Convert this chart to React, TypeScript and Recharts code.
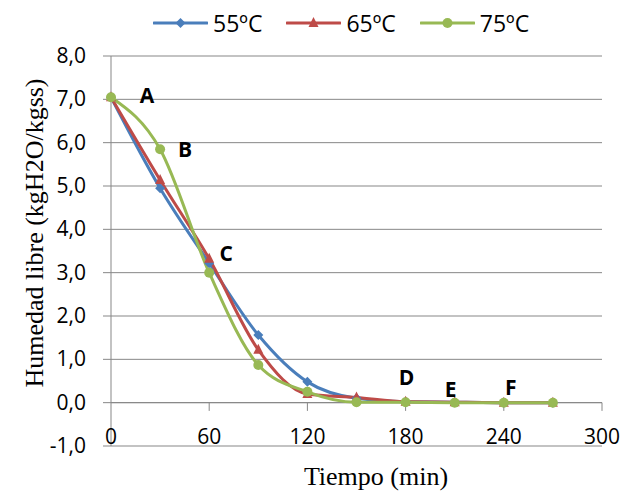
import {
  ComposedChart,
  Line,
  XAxis,
  YAxis,
  CartesianGrid,
  ReferenceLine,
  LabelList,
} from 'recharts'

// Tiempo de secado (min) y humedad libre (kgH2O/kgss) por temperatura
const tiempo = [0, 30, 60, 90, 120, 150, 180, 210, 240, 270]
const h55 = [7.05, 4.95, 3.22, 1.56, 0.48, 0.1, 0.02, 0.01, 0.0, 0.0]
const h65 = [7.05, 5.14, 3.32, 1.22, 0.2, 0.12, 0.02, 0.01, 0.0, 0.0]
const h75 = [7.05, 5.85, 3.0, 0.87, 0.25, 0.01, 0.01, 0.0, 0.0, 0.0]
const marcas = ['A', 'B', 'C', '', '', '', 'D', 'E', 'F', '']

const xTicks = [0, 60, 120, 180, 240, 300]
const yTicks = [-1, 0, 1, 2, 3, 4, 5, 6, 7, 8]

const series = [
  { key: 'h55', name: '55ºC', color: '#4A7EBB', shape: 'diamond' },
  { key: 'h65', name: '65ºC', color: '#BE4B48', shape: 'triangle' },
  { key: 'h75', name: '75ºC', color: '#98B954', shape: 'circle' },
]

const data = tiempo.map((t, i) => ({
  t,
  h55: h55[i],
  h65: h65[i],
  h75: h75[i],
  marca: marcas[i],
}))

const GRID = '#878787'
const SANS = '"Open Sans", sans-serif'
const SERIF = '"Liberation Serif", "Times New Roman", serif'

// where each letter sits relative to its point
const markOffset: Record<number, [number, number]> = {
  0: [36, -2],
  1: [25, 0],
  2: [17, -20],
  6: [1, -25],
  7: [-4, -14],
  8: [7, -16],
}

const fmt = (v: number) => v.toFixed(1).replace('.', ',')

function Marker({ shape, cx, cy, color }: { shape: string; cx: number; cy: number; color: string }) {
  if (cx == null || cy == null) return null
  if (shape === 'diamond') {
    return <path d={`M${cx},${cy - 5}L${cx + 5},${cy}L${cx},${cy + 5}L${cx - 5},${cy}Z`} fill={color} />
  }
  if (shape === 'triangle') {
    return <path d={`M${cx},${cy - 6}L${cx + 5},${cy + 4}L${cx - 5},${cy + 4}Z`} fill={color} />
  }
  return <circle cx={cx} cy={cy} r={5} fill={color} />
}

function YTick({ x, y, payload }: any) {
  return (
    <text x={x} y={y} dy={7} textAnchor="end" fontFamily={SANS} fontSize={21} fill="#000">
      {fmt(payload.value)}
    </text>
  )
}

function XTick({ x, y, payload }: any) {
  return (
    <text x={x} y={y - 2} textAnchor="middle" fontFamily={SANS} fontSize={21} fill="#000">
      {payload.value}
    </text>
  )
}

function Letter({ x, y, value, index }: any) {
  if (!value) return null
  const [dx, dy] = markOffset[index] ?? [0, -15]
  return (
    <text
      x={x + dx}
      y={y + dy}
      textAnchor="middle"
      dominantBaseline="central"
      fontFamily={SANS}
      fontWeight="bold"
      fontSize={21}
      fill="#000"
    >
      {value}
    </text>
  )
}

function LegendBar() {
  return (
    <div
      style={{
        position: 'absolute',
        left: 153,
        top: 8,
        display: 'flex',
        alignItems: 'center',
        gap: 24,
        fontFamily: SANS,
        fontSize: 23,
        lineHeight: '30px',
      }}
    >
      {series.map((s) => (
        <div key={s.key} style={{ display: 'flex', alignItems: 'center', gap: 5 }}>
          <svg width={55} height={14}>
            <line x1={1} y1={7} x2={54} y2={7} stroke={s.color} strokeWidth={3} strokeLinecap="round" />
            <Marker shape={s.shape} cx={27.5} cy={7} color={s.color} />
          </svg>
          <span>{s.name}</span>
        </div>
      ))}
    </div>
  )
}

export default function App() {
  return (
    <div style={{ position: 'absolute', left: 0, top: 0, width: 623, height: 492, background: '#fff' }}>
      <ComposedChart
        width={623}
        height={492}
        data={data}
        margin={{ top: 56, right: 21, bottom: 0, left: 0 }}
      >
        <CartesianGrid vertical={false} stroke={GRID} strokeWidth={1} />
        <XAxis
          dataKey="t"
          type="number"
          domain={[0, 300]}
          ticks={xTicks}
          axisLine={false}
          tickLine={false}
          tickSize={0}
          tickMargin={0}
          height={46}
          tick={<XTick />}
          label={{
            content: () => (
              <text x={376} y={485} textAnchor="middle" fontFamily={SERIF} fontSize={26} fill="#000">
                Tiempo (min)
              </text>
            ),
          }}
        />
        <YAxis
          type="number"
          domain={[-1, 8]}
          ticks={yTicks}
          width={111}
          axisLine={{ stroke: GRID, strokeWidth: 1 }}
          tickLine={{ stroke: GRID, strokeWidth: 1 }}
          tickSize={8}
          tickMargin={17}
          tick={<YTick />}
          label={{
            content: () => (
              <text
                x={43}
                y={233}
                transform="rotate(-90 43 233)"
                textAnchor="middle"
                fontFamily={SERIF}
                fontSize={26}
                fill="#000"
              >
                Humedad libre (kgH2O/kgss)
              </text>
            ),
          }}
        />
        <ReferenceLine y={0} stroke={GRID} strokeWidth={1} />
        {xTicks.slice(1).map((t) => (
          <ReferenceLine
            key={t}
            segment={[
              { x: t, y: 0 },
              { x: t, y: -0.19 },
            ]}
            stroke={GRID}
            strokeWidth={1}
          />
        ))}
        {series.map((s) => (
          <Line
            key={s.key}
            dataKey={s.key}
            name={s.name}
            type="monotone"
            stroke={s.color}
            strokeWidth={3}
            isAnimationActive={false}
            dot={(p: any) => <Marker key={`${s.key}-${p.index}`} shape={s.shape} cx={p.cx} cy={p.cy} color={s.color} />}
            activeDot={false}
          >
            {s.key === 'h75' && <LabelList dataKey="marca" content={<Letter />} />}
          </Line>
        ))}
      </ComposedChart>
      <LegendBar />
    </div>
  )
}
